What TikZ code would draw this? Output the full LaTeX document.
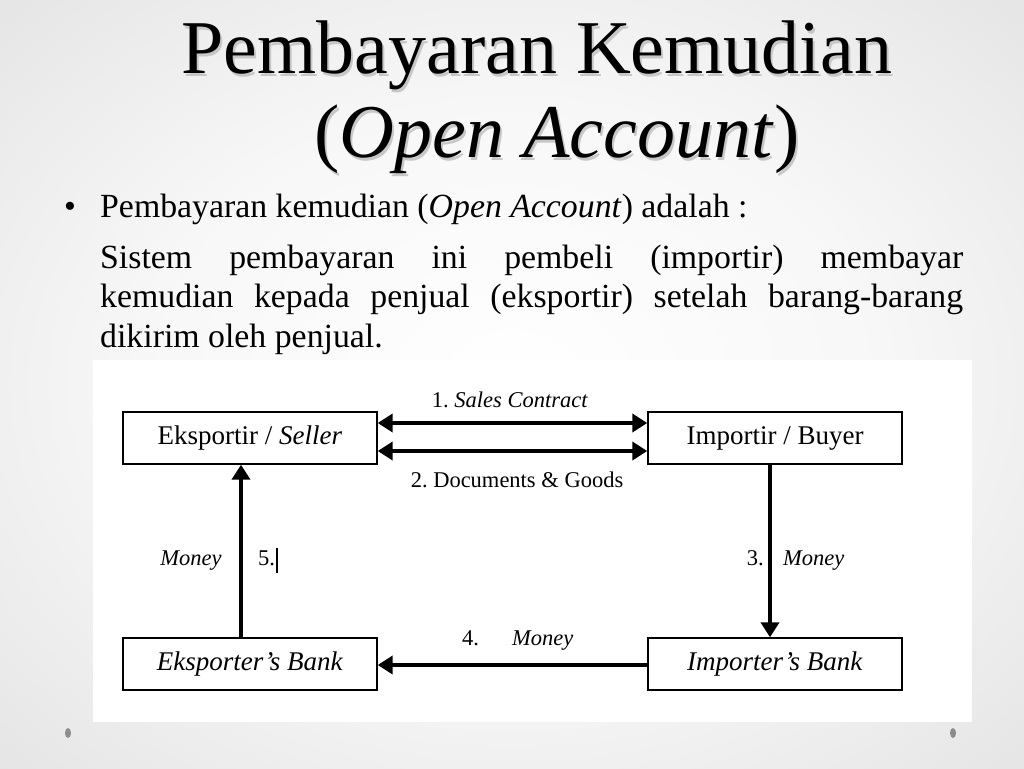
\documentclass[tikz,border=0pt]{standalone}
\usepackage{fontspec}
\setmainfont{Liberation Serif}
\frenchspacing
\usetikzlibrary{positioning,arrows.meta,shadings}
\pgfdeclareradialshading{slidebg}{\pgfpoint{0bp}{0bp}}{%
  color(0bp)=(white); color(18bp)=(white!97!black);
  color(40bp)=(white!88!black); color(50bp)=(white!84!black)}
\tikzset{
  box/.style={draw,line width=1.4pt,fill=white,minimum width=254pt,
    minimum height=52pt,inner sep=0pt,font=\fontsize{27}{31}\selectfont},
  flow/.style={line width=4.5pt,-{Triangle[length=15pt,width=18pt]}},
  twoway/.style={line width=4.5pt,{Triangle[length=15pt,width=18pt]}-{Triangle[length=15pt,width=18pt]}},
  lbl/.style={inner sep=0pt,anchor=base,font=\fontsize{22.5}{26}\selectfont},
  body/.style={inner sep=0pt,anchor=base west,font=\fontsize{33.8}{40}\selectfont},
  heading/.style={inner sep=0pt,anchor=base,font=\fontsize{76}{80}\selectfont}
}

\begin{document}
\begin{tikzpicture}[x=1pt,y=-1pt]
    \useasboundingbox (0,0) rectangle (1024,768);
    \shade[shading=slidebg] (0,0) rectangle (1024,768);
    % title with its shadow
    \foreach \col/\dx/\dy in {black!22/2/3,black/0/0} {
      \node [heading,text=\col] (t1) at (537+\dx,73+\dy) {Pembayaran Kemudian};
      \node [heading,text=\col] (t2) at (557+\dx,157+\dy) {(\textit{Open Account})};
    }
    % bullet and its text
    \node [body,anchor=base] (dot) at (70,217) {\textbullet};
    \node [body] (intro) at (100,217) {Pembayaran kemudian (\textit{Open Account}) adalah :};
    \node [body] (p1) at (100,268) {\makebox[863pt][s]{Sistem pembayaran ini pembeli (importir) membayar}};
    \node [body] (p2) at (100,307) {\makebox[863pt][s]{kemudian kepada penjual (eksportir) setelah barang-barang}};
    \node [body] (p3) at (100,347) {dikirim oleh penjual.};
    % the diagram
    \fill [white] (93,360) rectangle (972,722);
    \node (seller) [box] at (250,438) {Eksportir / \textit{Seller}};
    \node (buyer) [box] at (775,438) {Importir / Buyer};
    \node (ebank) [box] at (250,664) {\textit{Eksporter's Bank}};
    \node (ibank) [box] at (775,664) {\textit{Importer's Bank}};
    \draw [twoway] ([yshift=15pt]seller.east) -- ([yshift=15pt]buyer.west);
    \draw [twoway] ([yshift=-13pt]seller.east) -- ([yshift=-13pt]buyer.west);
    \draw [flow] ([xshift=-5pt]buyer.south) -- ([xshift=-5pt]ibank.north);
    \draw [flow] ([yshift=-1pt]ibank.west) -- ([yshift=-1pt]ebank.east);
    \draw [flow] ([xshift=-9pt]ebank.north) -- ([xshift=-9pt]seller.south);
    \node (l1) [lbl] at (510,407) {1. \textit{Sales Contract}};
    \node (l2) [lbl] at (517,487) {2. Documents \& Goods};
    \node (l3a) [lbl,anchor=base east] at (764,565) {3.};
    \node (l3b) [lbl,anchor=base west] at (783,565) {\textit{Money}};
    \node (l4a) [lbl,anchor=base west] at (462,645) {4.};
    \node (l4b) [lbl,anchor=base west] at (512,645) {\textit{Money}};
    \node (l5a) [lbl] at (191,565) {\textit{Money}};
    \node (l5b) [lbl,anchor=base west] at (258,565) {5.\kern1pt\rule[-8pt]{2pt}{25pt}};
    % corner dots
    \fill [black!45] (68,733) ellipse (3pt and 5pt);
    \fill [black!45] (953,733) ellipse (3pt and 5pt);
  \end{tikzpicture}
\end{document}
